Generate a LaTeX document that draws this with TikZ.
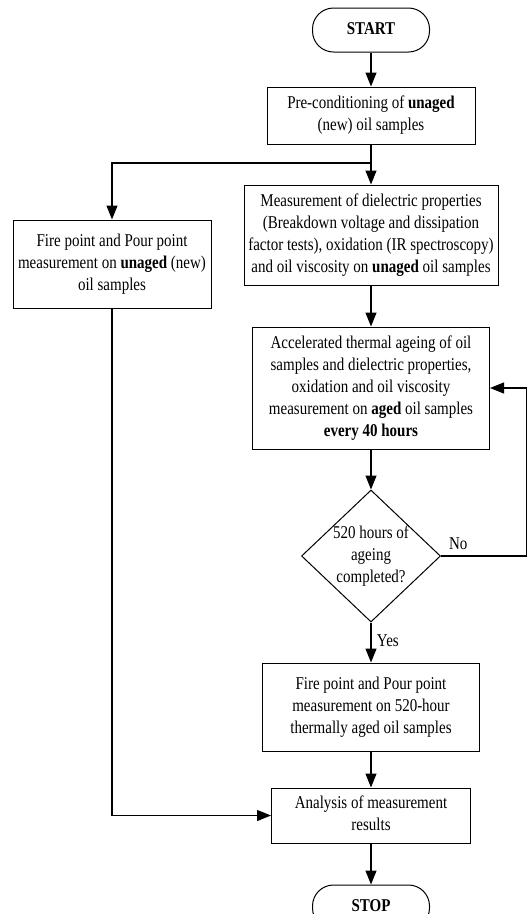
\documentclass[tikz,border=0pt]{standalone}
\usepackage{fontspec}
\usepackage{graphicx}
\setmainfont{Liberation Serif}
\usetikzlibrary{arrows.meta,shapes.geometric}
\newcommand{\tallrows}[1]{\scalebox{1}[1.2]{\begin{tabular}{@{}c@{}}#1\end{tabular}}}

\begin{document}
\begin{tikzpicture}[
  x=1pt,y=-1pt,
  every node/.style={font=\fontsize{15}{18.3}\selectfont},
  block/.style={draw,line width=1pt,inner sep=0pt},
  terminal/.style={draw,line width=1pt,rounded corners=21pt,minimum width=117pt,minimum height=44pt,inner sep=0pt},
  decision/.style={draw,diamond,line width=1pt,inner sep=-6pt,minimum width=139pt,minimum height=132pt},
  signal/.style={-{Triangle[length=14pt,width=11pt]},line width=1.2pt}
]
  \useasboundingbox (0,0) rectangle (527,914);
  \node[terminal] (start) at (371,30) {\tallrows{\textbf{START}}};
  \node[block,minimum width=208pt,minimum height=57pt] (precond) at (371,115.5)
    {\tallrows{Pre-conditioning of \textbf{unaged}\\(new) oil samples}};
  \node[block,minimum width=254pt,minimum height=100pt] (dielectric) at (371,235)
    {\tallrows{Measurement of dielectric properties\\(Breakdown voltage and dissipation\\factor tests), oxidation (IR spectroscopy)\\and oil viscosity on \textbf{unaged} oil samples}};
  \node[block,minimum width=198pt,minimum height=88pt] (firenew) at (112,264)
    {\tallrows{Fire point and Pour point\\measurement on \textbf{unaged} (new)\\oil samples}};
  \node[block,minimum width=237pt,minimum height=122pt] (ageing) at (371,388)
    {\tallrows{Accelerated thermal ageing of oil\\samples and dielectric properties,\\oxidation and oil viscosity\\measurement on \textbf{aged} oil samples\\\textbf{every 40 hours}}};
  \node[decision] (done) at (371,556) {\tallrows{520 hours of\\ageing\\completed?}};
  \node[block,minimum width=217pt,minimum height=88pt] (fireaged) at (371,707)
    {\tallrows{Fire point and Pour point\\measurement on 520-hour\\thermally aged oil samples}};
  \node[block,minimum width=199pt,minimum height=55pt] (analysis) at (371,815.5)
    {\tallrows{Analysis of measurement\\results}};
  \node[terminal] (stop) at (371,907) {\tallrows{\textbf{STOP}}};
  \coordinate (split) at (371,163);
  \coordinate (loopback) at (527,0);

  \path[signal]
    (start) edge (precond)
    (split) edge (dielectric)
    (dielectric) edge (ageing)
    (ageing) edge (done)
    (done) edge node[right,xshift=2pt] {\tallrows{Yes}} (fireaged)
    (fireaged) edge (analysis)
    (analysis) edge (stop);
  \draw[line width=1.2pt] (precond) -- (split);
  \draw[signal] (split) -| (firenew);
  \draw[signal] (firenew) |- (analysis);
  \draw[signal] (done.east) -- node[above,pos=0.2,yshift=-4pt] {\tallrows{No}} (done.east -| loopback) |- (ageing.east);
\end{tikzpicture}
\end{document}
